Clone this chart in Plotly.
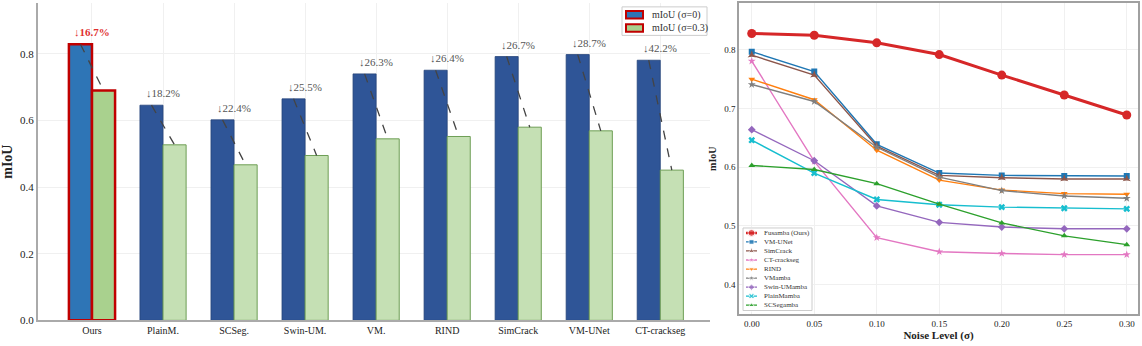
import plotly.graph_objects as go

# bar chart data
methods = ["Ours", "PlainM.", "SCSeg.", "Swin-UM.", "VM.", "RIND", "SimCrack", "VM-UNet", "CT-crackseg"]
miou_clean = [0.829, 0.646, 0.602, 0.665, 0.740, 0.751, 0.792, 0.798, 0.781]
miou_noisy = [0.690, 0.527, 0.467, 0.495, 0.545, 0.552, 0.580, 0.569, 0.451]
drop_labels = ["↓16.7%", "↓18.2%", "↓22.4%", "↓25.5%", "↓26.3%", "↓26.4%", "↓26.7%", "↓28.7%", "↓42.2%"]
bar_names = ["mIoU (σ=0)", "mIoU (σ=0.3)"]

# line chart data
noise_levels = [0.00, 0.05, 0.10, 0.15, 0.20, 0.25, 0.30]
series_names = ["Fusamba (Ours)", "VM-UNet", "SimCrack", "CT-crackseg", "RIND",
                "VMamba", "Swin-UMamba", "PlainMamba", "SCSegamba"]
fusamba = [0.828, 0.825, 0.812, 0.792, 0.757, 0.723, 0.689]
vm_unet = [0.797, 0.763, 0.639, 0.590, 0.586, 0.585, 0.585]
simcrack = [0.791, 0.757, 0.636, 0.586, 0.582, 0.580, 0.580]
ct_crackseg = [0.781, 0.610, 0.480, 0.456, 0.453, 0.451, 0.451]
rind = [0.750, 0.715, 0.629, 0.578, 0.561, 0.555, 0.554]
vmamba = [0.741, 0.712, 0.634, 0.583, 0.560, 0.551, 0.547]
swin_umamba = [0.664, 0.611, 0.534, 0.506, 0.498, 0.495, 0.495]
plainmamba = [0.646, 0.590, 0.545, 0.536, 0.532, 0.530, 0.529]
scsegamba = [0.603, 0.596, 0.572, 0.537, 0.505, 0.483, 0.468]
series_values = [fusamba, vm_unet, simcrack, ct_crackseg, rind, vmamba, swin_umamba, plainmamba, scsegamba]

line_colors = ["#d62728", "#1f77b4", "#8c564b", "#e377c2", "#ff7f0e", "#7f7f7f", "#9467bd", "#17becf", "#2ca02c"]
line_symbols = ["circle", "square", "star-triangle-up", "star", "triangle-down", "star", "diamond", "x", "triangle-up"]

FONT = "Liberation Serif"
W, H = 1142, 346
OURS_BLUE, OURS_GREEN = "#2E75B6", "#A9D18E"


def px_x(p):
    return p / W


def px_y(p):
    return 1 - p / H


fig = go.Figure()

idx = list(range(len(methods)))
n = len(methods)
fig.add_trace(go.Bar(
    x=idx, y=miou_clean, name=bar_names[0], showlegend=False,
    marker=dict(color=[OURS_BLUE] + ["#2F5597"] * (n - 1),
                line=dict(color=["#C00000"] + ["#25447a"] * (n - 1),
                          width=[2.5] + [0.8] * (n - 1))),
    xaxis="x", yaxis="y",
))
fig.add_trace(go.Bar(
    x=idx, y=miou_noisy, name=bar_names[1], showlegend=False,
    marker=dict(color=[OURS_GREEN] + ["#C5E0B4"] * (n - 1),
                line=dict(color=["#C00000"] + ["#6E9E55"] * (n - 1),
                          width=[2.5] + [1] * (n - 1))),
    xaxis="x", yaxis="y",
))

# dashed connectors + drop labels
half = 0.1625
for i in idx:
    fig.add_shape(type="line", xref="x", yref="y",
                  x0=i - half, y0=miou_clean[i], x1=i + half, y1=miou_noisy[i],
                  line=dict(color="#444444", width=1.3, dash="dash"))
    fig.add_annotation(x=i, y=miou_clean[i], xref="x", yref="y", text=drop_labels[i],
                       showarrow=False, yanchor="bottom", yshift=4,
                       font=dict(family=FONT, size=11,
                                 color="#E03030" if i == 0 else "#555555",
                                 weight="bold" if i == 0 else "normal"))

# bar legend (compact, matplotlib-like)
fig.add_shape(type="rect", xref="paper", yref="paper",
              x0=px_x(622), x1=px_x(707), y0=px_y(36), y1=px_y(7),
              fillcolor="white", line=dict(color="#cccccc", width=1))
for k, (label, fc) in enumerate(zip(bar_names, [OURS_BLUE, OURS_GREEN])):
    cy = 15 + k * 13.5
    fig.add_shape(type="rect", xref="paper", yref="paper",
                  x0=px_x(626), x1=px_x(643), y0=px_y(cy + 3.8), y1=px_y(cy - 3.8),
                  fillcolor=fc, line=dict(color="#C00000", width=2))
    fig.add_annotation(x=px_x(650), y=px_y(cy), xref="paper", yref="paper", text=label,
                       showarrow=False, xanchor="left", yanchor="middle",
                       font=dict(family=FONT, size=10, color="#333333"))

for name, vals, col, sym in zip(series_names, series_values, line_colors, line_symbols):
    ours = name.startswith("Fusamba")
    fig.add_trace(go.Scatter(
        x=noise_levels, y=vals, name=name, mode="lines+markers", showlegend=False,
        line=dict(color=col, width=3 if ours else 1.4),
        marker=dict(symbol=sym, size=9 if ours else 6, color=col),
        xaxis="x2", yaxis="y2",
    ))

# compact legend for the line chart, drawn on a hidden pixel-unit overlay axis
LX0, LX1, LY0, LY1 = 743, 812, 232, 316
fig.add_trace(go.Scatter(
    x=[LX0, LX1, LX1, LX0, LX0], y=[LY0, LY0, LY1, LY1, LY0],
    fill="toself", fillcolor="white", mode="lines",
    line=dict(color="#cccccc", width=1), showlegend=False, hoverinfo="skip",
    xaxis="x3", yaxis="y3",
))
for k, (name, col, sym) in enumerate(zip(series_names, line_colors, line_symbols)):
    ours = k == 0
    cy = 237 + k * 9.2
    fig.add_trace(go.Scatter(
        x=[746, 751.5, 757], y=[cy, cy, cy], mode="lines+markers", showlegend=False,
        line=dict(color=col, width=2.5 if ours else 1.3),
        marker=dict(symbol=sym, size=[0, 7 if ours else 5, 0], color=col),
        hoverinfo="skip", xaxis="x3", yaxis="y3",
    ))
    fig.add_annotation(x=762, y=cy, xref="x3", yref="y3", text=name, showarrow=False,
                       xanchor="left", yanchor="middle",
                       font=dict(family=FONT, size=7, color="#333333"))

fig.update_layout(
    width=W, height=H, margin=dict(l=0, r=0, t=0, b=0),
    paper_bgcolor="white", plot_bgcolor="white",
    font=dict(family=FONT, color="#222222"),
    barmode="group", bargap=0.35, bargroupgap=0, showlegend=False,
    xaxis=dict(domain=[px_x(38), px_x(710)], range=[-0.76, 8.7],
               tickvals=idx, ticktext=methods, tickfont=dict(size=10),
               showline=True, linecolor="#aaaaaa", linewidth=2,
               showgrid=True, gridcolor="#f0f0f0", zeroline=False, ticks=""),
    yaxis=dict(domain=[px_y(326), px_y(3)], range=[0, 0.953],
               tickvals=[0, 0.2, 0.4, 0.6, 0.8], tickformat=".1f", tickfont=dict(size=11),
               showline=True, linecolor="#aaaaaa", linewidth=2,
               showgrid=True, gridcolor="#f0f0f0", zeroline=False, ticks="",
               title=dict(text="<b>mIoU</b>", font=dict(size=14), standoff=8)),
    xaxis2=dict(domain=[px_x(739), px_x(1138)], range=[-0.0102, 0.309], anchor="y2",
                tickvals=noise_levels, tickformat=".2f", tickfont=dict(size=9),
                showline=True, mirror=True, linecolor="#a0a0a0", linewidth=1.5,
                showgrid=True, gridcolor="#f0f0f0", zeroline=False, ticks="",
                title=dict(text="<b>Noise Level (σ)</b>", font=dict(size=11), standoff=2)),
    yaxis2=dict(domain=[px_y(320), px_y(3)], range=[0.349, 0.88], anchor="x2",
                tickvals=[0.4, 0.5, 0.6, 0.7, 0.8], tickformat=".1f", tickfont=dict(size=9),
                showline=True, mirror=True, linecolor="#a0a0a0", linewidth=1.5,
                showgrid=True, gridcolor="#f0f0f0", zeroline=False, ticks="",
                title=dict(text="<b>mIoU</b>", font=dict(size=10), standoff=6)),
    xaxis3=dict(domain=[px_x(LX0 - 1), px_x(LX1 + 1)], range=[LX0 - 1, LX1 + 1],
                anchor="y3", visible=False, fixedrange=True),
    yaxis3=dict(domain=[px_y(LY1 + 1), px_y(LY0 - 1)], range=[LY1 + 1, LY0 - 1],
                anchor="x3", visible=False, fixedrange=True),
)

fig.write_html("out.html", config={"displayModeBar": False},
               post_script="document.body.style.margin='0';")
